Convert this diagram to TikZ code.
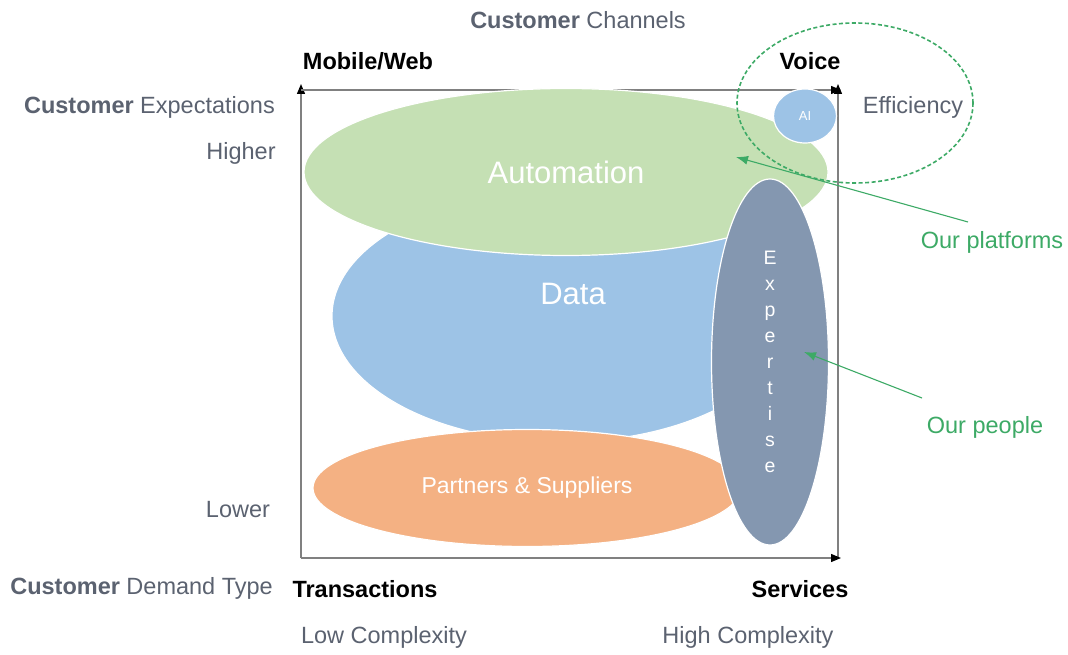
\documentclass[tikz,border=0pt]{standalone}
\usepackage{fontspec}
\setmainfont{Liberation Sans}
\usetikzlibrary{shapes.geometric,arrows.meta}
\definecolor{txtgray}{HTML}{5B6270}
\definecolor{grn}{HTML}{3DAA66}
\definecolor{autofill}{HTML}{C5E0B4}
\definecolor{datafill}{HTML}{9DC3E6}
\definecolor{partfill}{HTML}{F4B183}
\definecolor{expfill}{HTML}{8497B0}
\definecolor{axisgray}{HTML}{808080}
\begin{document}
\begin{tikzpicture}[x=1pt,y=-1pt,
  blob/.style={ellipse, draw=white, line width=1.2pt, inner sep=0pt, text=white},
  lbl/.style={text=txtgray, font=\fontsize{23.5}{27}\selectfont, inner sep=0pt},
  hdr/.style={text=black, font=\fontsize{23.5}{27}\selectfont\bfseries, inner sep=0pt},
  grnlbl/.style={text=grn, font=\fontsize{23.5}{27}\selectfont, inner sep=0pt},
  axisline/.style={draw=axisgray, line width=1.3pt, -{Triangle[length=10pt,width=8pt,color=black]}},
  pointer/.style={draw=grn, line width=1.1pt, -{Latex[length=12pt,width=9pt,color=grn]}}
]
\useasboundingbox (0,0) rectangle (1068,655);
\fill[white] (0,0) rectangle (1068,655);

% axes
\coordinate (bl) at (301,558);
\coordinate (tl) at (301,90);
\coordinate (tlup) at (301,84);
\coordinate (tr) at (841,90);
\coordinate (br) at (838,558);
\coordinate (trup) at (838,84);
\coordinate (brr) at (841,558);
\draw[axisline] (bl) -- (tlup);
\draw[axisline] (tl) -- (tr);
\draw[axisline] (br) -- (trup);
\draw[axisline] (bl) -- (brr);

% blobs
\node[blob, fill=datafill, minimum width=460pt, minimum height=252pt] (data) at (562,316) {};
\node[text=white, font=\fontsize{31}{36}\selectfont, inner sep=0pt] (datalbl) at (573,294) {Data};
\node[blob, fill=autofill, minimum width=524pt, minimum height=167pt,
      font=\fontsize{31}{36}\selectfont] (auto) at (566,172) {Automation};
\node[blob, fill=partfill, minimum width=428pt, minimum height=117pt,
      font=\fontsize{23}{27}\selectfont] (partners) at (527,488) {Partners \& Suppliers};
\node[blob, fill=expfill, minimum width=117pt, minimum height=366pt,
      align=center, font=\fontsize{19.5}{26}\selectfont] (expertise) at (770,362)
      {E\\x\\p\\e\\r\\t\\i\\s\\e};
\node[blob, fill=datafill, minimum width=63pt, minimum height=54pt,
      font=\fontsize{13}{15}\selectfont] (ai) at (805,116) {AI};
\node[ellipse, draw=grn, dash pattern=on 4pt off 2.5pt, line width=1.6pt, minimum width=236pt, minimum height=160pt] (voicezone) at (855,103) {};

% labels
\node[lbl] (channels) at (578,20) {\textbf{Customer} Channels};
\node[hdr] (mobile) at (368,61) {Mobile/Web};
\node[hdr] (voice) at (810,61) {Voice};
\node[lbl, anchor=east] (expect) at (275,107) {\textbf{Customer} Expectations};
\node[lbl] (eff) at (913,107) {Efficiency};
\node[lbl] (higher) at (241,153) {Higher};
\node[lbl] (lower) at (238,510) {Lower};
\node[lbl, anchor=east] (demand) at (273,588) {\textbf{Customer} Demand Type};
\node[hdr] (trans) at (365,589) {Transactions};
\node[hdr] (serv) at (800,589) {Services};
\node[lbl] (lowc) at (384,637) {Low Complexity};
\node[lbl] (highc) at (748,637) {High Complexity};
\node[grnlbl] (platforms) at (992,242) {Our platforms};
\node[grnlbl] (people) at (985,427) {Our people};

% pointers
\coordinate (pstart) at (968,222);
\coordinate (ptip) at (736,157);
\coordinate (qstart) at (922,398);
\coordinate (qtip) at (804,352);
\draw[pointer] (pstart) -- (ptip);
\draw[pointer] (qstart) -- (qtip);
\end{tikzpicture}
\end{document}
